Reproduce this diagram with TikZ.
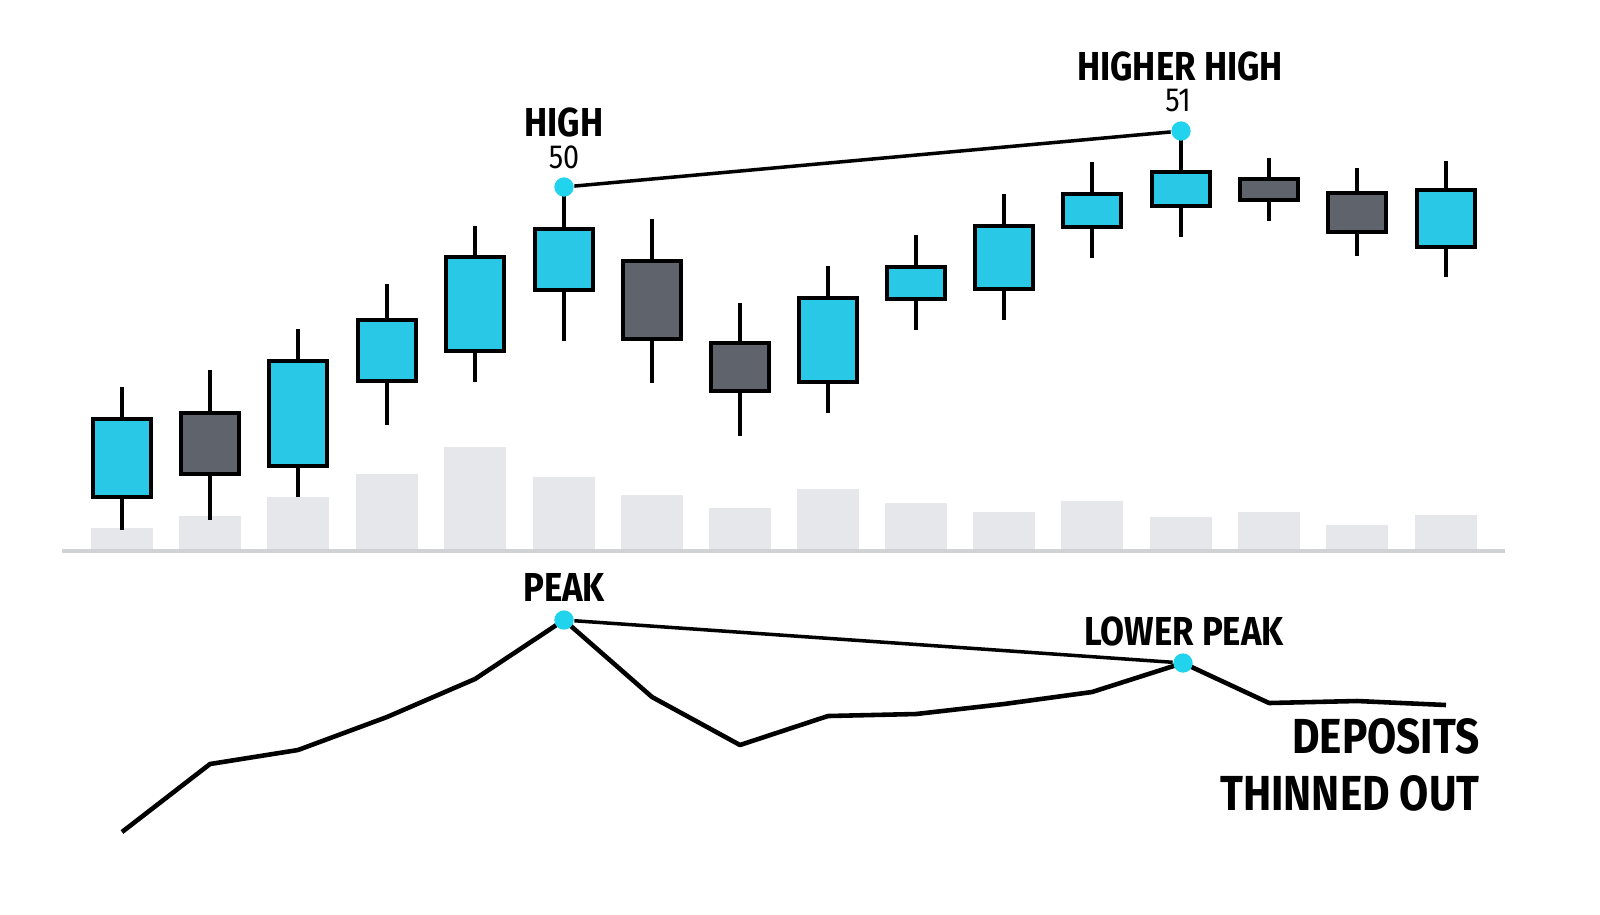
\documentclass[tikz,border=0pt]{standalone}
\usepackage{fontspec}
\setmainfont{Fira Sans}[FakeStretch=0.86]
\begin{document}
\begin{tikzpicture}[x=0.01cm,y=-0.01cm,
  up/.style={fill=cyanc,draw=black,line width=1.2pt},
  dn/.style={fill=grayc,draw=black,line width=1.2pt},
  wick/.style={line width=1.2pt},
  vol/.style={fill=volc,draw=none},
  dot/.style={circle,fill=dotc,inner sep=0pt,minimum size=5.5pt},
  lbl/.style={font=\fontsize{11.5}{12}\selectfont\bfseries},
  num/.style={font=\fontsize{9.5}{10}\selectfont}]
\definecolor{cyanc}{HTML}{29C8E6}
\definecolor{grayc}{HTML}{5F646C}
\definecolor{volc}{HTML}{E5E7EA}
\definecolor{dotc}{HTML}{22D3EE}
\useasboundingbox (0,0) rectangle (1600,914);
% volume
\foreach \x/\t in {122/528,210/516,298/497,387/474,475/447,564/477,652/495,740/508,828/489,916/503,1004/512,1092/501,1181/517,1269/512,1357/525,1446/515}
  \fill[volc] (\x-31,\t) rectangle (\x+31,551);
\draw[draw=volc!80!gray,line width=1pt] (62,551) -- (1505,551);
% candles
\foreach \x/\bt/\bb/\wt/\wb/\s in {122/419/497/387/530/up,210/413/474/370/520/dn,298/361/466/329/497/up,387/320/381/284/425/up,475/257/351/226/382/up,564/229/290/187/341/up,652/261/339/219/383/dn,740/343/391/303/436/dn,828/298/382/266/413/up,916/267/299/235/330/up,1004/226/289/194/320/up,1092/194/227/162/258/up,1181/172/206/131/237/up,1269/179/200/158/221/dn,1357/193/232/168/256/dn,1446/190/247/161/277/up}{
  \draw[wick] (\x,\wt) -- (\x,\wb);
  \draw[\s] (\x-29,\bt) rectangle (\x+29,\bb);
}
\node[dot] (h) at (564,187) {};
\node[dot] (hh) at (1181,131) {};
\draw[line width=1pt] (h) -- (hh);
\node[lbl] (th) at (564,122) {HIGH};
\node[num] (n50) at (564,157) {50};
\node[lbl] (thh) at (1180,66) {HIGHER HIGH};
\node[num] (n51) at (1178,101) {51};
% oscillator
\draw[line width=1.3pt,line join=round] (122,832) -- (210,764) -- (298,750) -- (387,717) -- (475,679) -- (564,620) -- (652,697) -- (740,745) -- (828,716) -- (916,714) -- (1004,704) -- (1092,692) -- (1183,663) -- (1269,703) -- (1357,701) -- (1446,705);
\node[dot] (p) at (564,620) {};
\node[dot] (lp) at (1183,663) {};
\draw[line width=1pt] (p) -- (lp);
\node[lbl] (tp) at (564,587) {PEAK};
\node[lbl] (tlp) at (1184,631) {LOWER PEAK};
\node[font=\fontsize{14}{16}\selectfont\bfseries,align=right,anchor=east] (dep) at (1492,765) {DEPOSITS\\THINNED OUT};
\end{tikzpicture}
\end{document}
